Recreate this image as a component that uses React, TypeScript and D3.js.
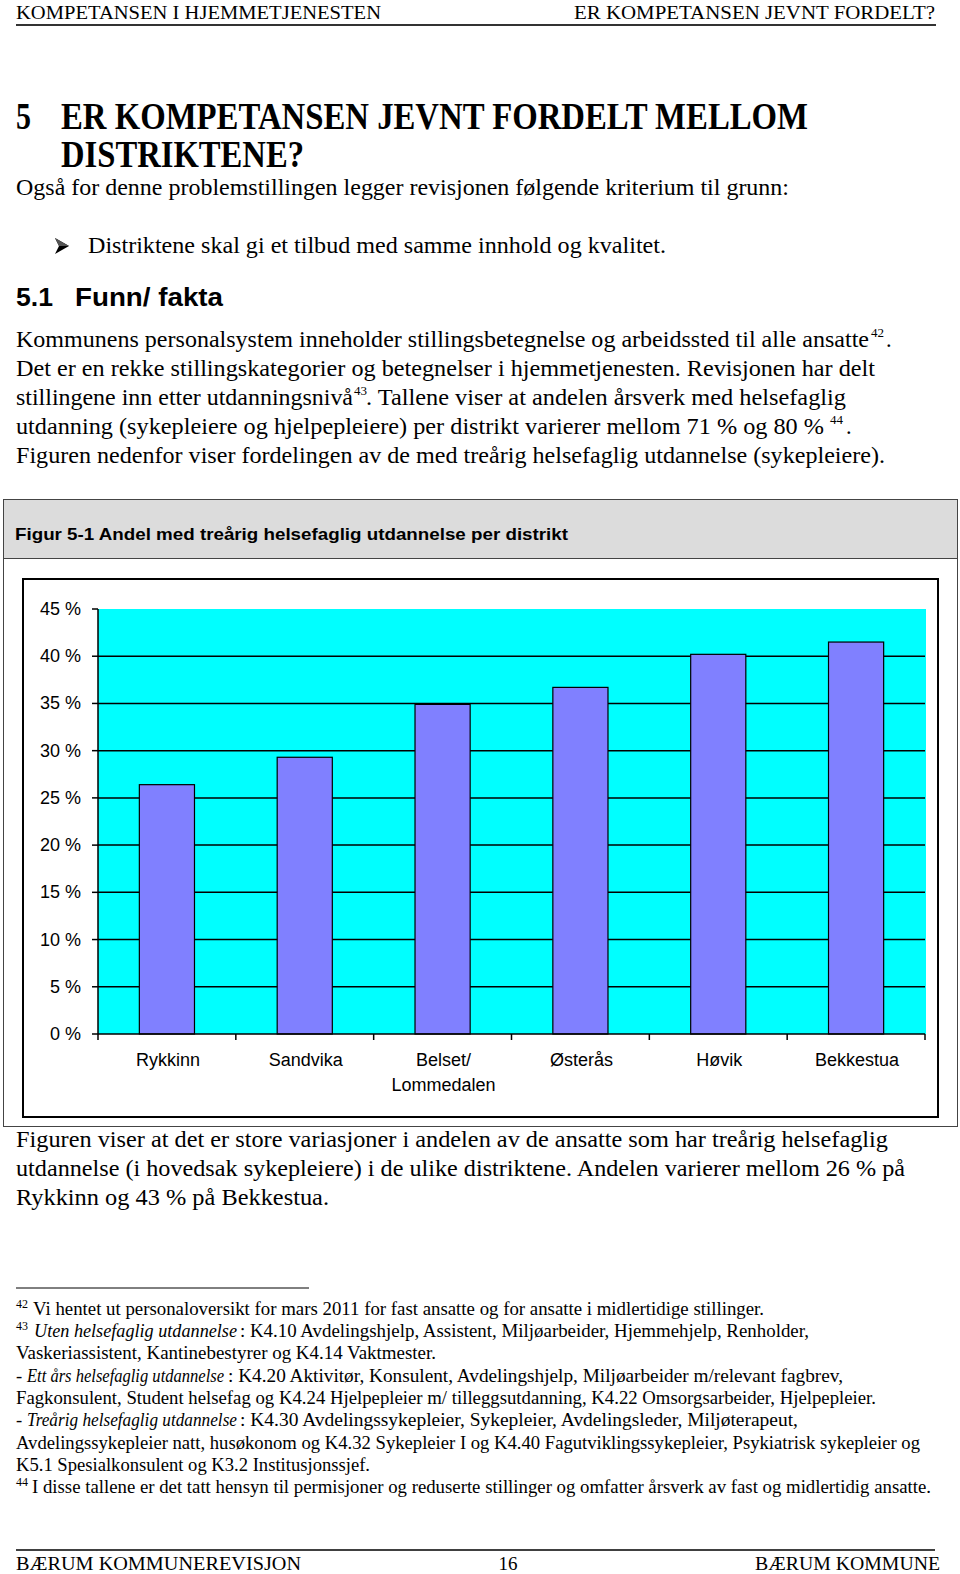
import React from 'react';
import * as d3 from 'd3';

const categories = ['Rykkinn', 'Sandvika', 'Belset/Lommedalen', 'Østerås', 'Høvik', 'Bekkestua'];
const categoryLabelLines = [['Rykkinn'], ['Sandvika'], ['Belset/', 'Lommedalen'], ['Østerås'], ['Høvik'], ['Bekkestua']];
const values = [26.4, 29.3, 34.9, 36.7, 40.2, 41.5];
const yTicks = [0, 5, 10, 15, 20, 25, 30, 35, 40, 45];
const yGrid = [5, 10, 15, 20, 25, 30, 35, 40];

const SERIF = '"Liberation Serif", "Times New Roman", serif';
const SANS = '"Liberation Sans", Arial, sans-serif';

type TP = {
  x: number; y: number; w?: number; size?: number; family?: string;
  weight?: string; italic?: boolean; anchor?: string; children: React.ReactNode;
};
function T({ x, y, w, size = 22.4, family = SERIF, weight, italic, anchor, children }: TP) {
  return (
    <text x={x} y={y} fontSize={size} fontFamily={family} fontWeight={weight}
      fontStyle={italic ? 'italic' : undefined} textAnchor={anchor as any}
      textLength={w} lengthAdjust={w ? 'spacingAndGlyphs' : undefined} fill="#000">
      {children}
    </text>
  );
}

function Chart() {
  const x0 = 98, x1 = 925, yTop = 609, yBot = 1034;
  const x = d3.scaleBand<string>().domain(categories).range([x0, x1]).paddingInner(0.6).paddingOuter(0.3);
  const y = d3.scaleLinear().domain([0, 45]).range([yBot, yTop]);
  const step = x.step();
  const boundaries = d3.range(categories.length + 1).map(i => x0 + i * step);
  return (
    <g>
      <rect x={3.5} y={499.5} width={954} height={627} fill="#fff" stroke="#444" strokeWidth={1} />
      <rect x={3.5} y={499.5} width={954} height={59} fill="#dcdcdc" stroke="#444" strokeWidth={1} />
      <T x={15} y={540} w={553} size={17} family={SANS} weight="bold">Figur 5-1 Andel med treårig helsefaglig utdannelse per distrikt</T>
      <rect x={23} y={579} width={915} height={538} fill="#fff" stroke="#000" strokeWidth={2} />
      <rect x={x0} y={y(45)} width={x1 - x0 + 1} height={y(0) - y(45)} fill="#00ffff" />
      {yGrid.map(t => (
        <line key={t} x1={x0} x2={x1} y1={y(t)} y2={y(t)} stroke="#000" strokeWidth={1.5} />
      ))}
      {values.map((v, i) => (
        <rect key={i} x={x(categories[i])!} y={y(v)} width={x.bandwidth()} height={y(0) - y(v)}
          fill="#8080ff" stroke="#000" strokeWidth={1.2} />
      ))}
      <line x1={x0} x2={x0} y1={y(45)} y2={y(0)} stroke="#000" strokeWidth={1.5} />
      <line x1={x0} x2={x1} y1={y(0)} y2={y(0)} stroke="#000" strokeWidth={1.5} />
      {yTicks.map(t => (
        <g key={t}>
          <line x1={x0 - 6} x2={x0} y1={y(t)} y2={y(t)} stroke="#000" strokeWidth={1.5} />
          <text x={81} y={y(t) + 6} fontSize={18} fontFamily={SANS} textAnchor="end" fill="#000">{`${t} %`}</text>
        </g>
      ))}
      {boundaries.map((b, i) => (
        <line key={i} x1={b} x2={b} y1={y(0)} y2={y(0) + 6} stroke="#000" strokeWidth={1.5} />
      ))}
      {categories.map((c, i) => (
        <text key={c} x={x(c)! + x.bandwidth() / 2 + 1} y={1066} fontSize={18} fontFamily={SANS} textAnchor="middle" fill="#000">
          {categoryLabelLines[i].map((l, j) => (
            <tspan key={j} x={x(c)! + x.bandwidth() / 2 + 1} dy={j === 0 ? 0 : 25}>{l}</tspan>
          ))}
        </text>
      ))}
    </g>
  );
}

export default function App() {
  const fnY = [1315, 1337, 1359, 1382, 1404, 1426, 1449, 1471, 1493];
  const fs = 18.6;
  return (
    <svg width={960} height={1574} style={{ position: 'absolute', left: 0, top: 0, background: '#fff' }}>
      <rect width={960} height={1574} fill="#fff" />
      {/* page header */}
      <T x={16} y={19} w={365} size={19}>KOMPETANSEN I HJEMMETJENESTEN</T>
      <T x={574} y={19} w={361} size={19}>ER KOMPETANSEN JEVNT FORDELT?</T>
      <line x1={16} x2={936} y1={25} y2={25} stroke="#333" strokeWidth={2} />

      {/* heading */}
      <T x={16} y={129} w={15} size={37} weight="bold">5</T>
      <T x={61} y={129} w={747} size={37} weight="bold">ER KOMPETANSEN JEVNT FORDELT MELLOM</T>
      <T x={61} y={167} w={243} size={37} weight="bold">DISTRIKTENE?</T>
      <T x={16} y={195} w={773}>Også for denne problemstillingen legger revisjonen følgende kriterium til grunn:</T>

      <polygon points="55,238 69,246 55,254 59,246" fill="#000" />
      <polygon points="55,238 69,246 59,246" fill="#555" />
      <T x={88} y={253} w={578}>Distriktene skal gi et tilbud med samme innhold og kvalitet.</T>

      <T x={16} y={306} w={37} size={26} family={SANS} weight="bold">5.1</T>
      <T x={75} y={306} w={148} size={26} family={SANS} weight="bold">Funn/ fakta</T>

      <T x={16} y={347} w={853}>Kommunens personalsystem inneholder stillingsbetegnelse og arbeidssted til alle ansatte</T>
      <T x={871} y={337} size={13}>42</T>
      <T x={886} y={347}>.</T>
      <T x={16} y={376} w={859}>Det er en rekke stillingskategorier og betegnelser i hjemmetjenesten. Revisjonen har delt</T>
      <T x={16} y={405} w={337}>stillingene inn etter utdanningsnivå</T>
      <T x={354} y={395} size={13}>43</T>
      <T x={366} y={405} w={480}>. Tallene viser at andelen årsverk med helsefaglig</T>
      <T x={16} y={434} w={808}>utdanning (sykepleiere og hjelpepleiere) per distrikt varierer mellom 71 % og 80 %</T>
      <T x={830} y={424} size={13}>44</T>
      <T x={846} y={434}>.</T>
      <T x={16} y={463} w={869}>Figuren nedenfor viser fordelingen av de med treårig helsefaglig utdannelse (sykepleiere).</T>

      <Chart />

      <T x={16} y={1147} w={872}>Figuren viser at det er store variasjoner i andelen av de ansatte som har treårig helsefaglig</T>
      <T x={16} y={1176} w={889}>utdannelse (i hovedsak sykepleiere) i de ulike distriktene. Andelen varierer mellom 26 % på</T>
      <T x={16} y={1205} w={313}>Rykkinn og 43 % på Bekkestua.</T>

      <line x1={16} x2={309} y1={1288} y2={1288} stroke="#000" strokeWidth={1} />

      <T x={16} y={fnY[0] - 7} size={12}>42</T>
      <T x={33} y={fnY[0]} w={731} size={fs}>Vi hentet ut personaloversikt for mars 2011 for fast ansatte og for ansatte i midlertidige stillinger.</T>
      <T x={16} y={fnY[1] - 7} size={12}>43</T>
      <T x={34} y={fnY[1]} w={203} size={fs} italic>Uten helsefaglig utdannelse</T>
      <T x={240} y={fnY[1]} w={569} size={fs}>: K4.10 Avdelingshjelp, Assistent, Miljøarbeider, Hjemmehjelp, Renholder,</T>
      <T x={16} y={fnY[2]} w={420} size={fs}>Vaskeriassistent, Kantinebestyrer og K4.14 Vaktmester.</T>
      <T x={16} y={fnY[3]} size={fs}>-</T>
      <T x={27} y={fnY[3]} w={197} size={fs} italic>Ett års helsefaglig utdannelse</T>
      <T x={228} y={fnY[3]} w={615} size={fs}>: K4.20 Aktivitør, Konsulent, Avdelingshjelp, Miljøarbeider m/relevant fagbrev,</T>
      <T x={16} y={fnY[4]} w={860} size={fs}>Fagkonsulent, Student helsefag og K4.24 Hjelpepleier m/ tilleggsutdanning, K4.22 Omsorgsarbeider, Hjelpepleier.</T>
      <T x={16} y={fnY[5]} size={fs}>-</T>
      <T x={27} y={fnY[5]} w={210} size={fs} italic>Treårig helsefaglig utdannelse</T>
      <T x={240} y={fnY[5]} w={558} size={fs}>: K4.30 Avdelingssykepleier, Sykepleier, Avdelingsleder, Miljøterapeut,</T>
      <T x={16} y={fnY[6]} w={904} size={fs}>Avdelingssykepleier natt, husøkonom og K4.32 Sykepleier I og K4.40 Fagutviklingssykepleier, Psykiatrisk sykepleier og</T>
      <T x={16} y={fnY[7]} w={354} size={fs}>K5.1 Spesialkonsulent og K3.2 Institusjonssjef.</T>
      <T x={16} y={fnY[8] - 7} size={12}>44</T>
      <T x={32} y={fnY[8]} w={899} size={fs}>I disse tallene er det tatt hensyn til permisjoner og reduserte stillinger og omfatter årsverk av fast og midlertidig ansatte.</T>

      <line x1={16} x2={935} y1={1550} y2={1550} stroke="#000" strokeWidth={1.5} />
      <T x={16} y={1570} w={285} size={19}>BÆRUM KOMMUNEREVISJON</T>
      <T x={508} y={1570} size={19} anchor="middle">16</T>
      <T x={755} y={1570} w={185} size={19}>BÆRUM KOMMUNE</T>
    </svg>
  );
}
